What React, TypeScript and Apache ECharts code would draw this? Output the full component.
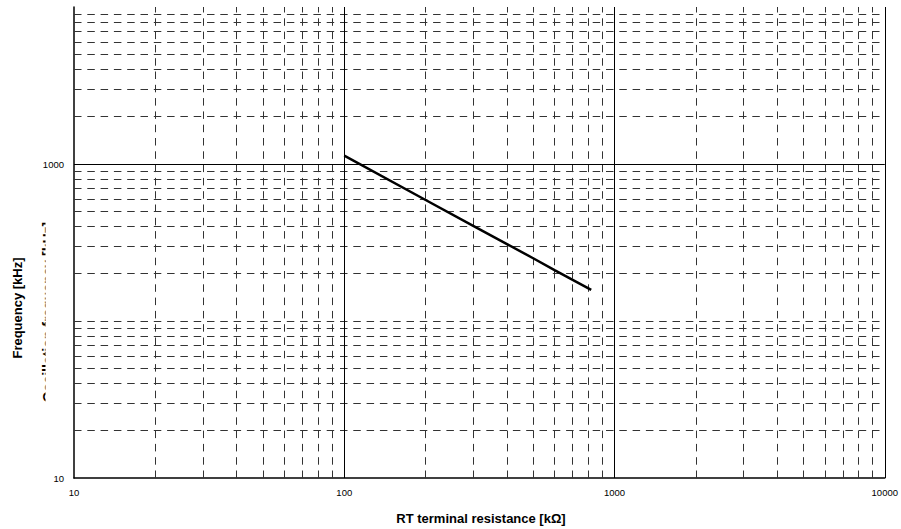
import React, { useEffect, useRef } from "react";
import * as echarts from "echarts";

// RT terminal resistance [kΩ] vs frequency [kHz]
const resistance = [100, 200, 300, 400, 500, 600, 700, 820];
const frequency = [1130, 590, 404, 309, 251, 211, 183, 158];

const xLabelTicks = [10, 100, 1000, 10000];
const yLabelTicks = [10, 1000];

const xMajorGrid = [100, 1000, 10000];
const yMajorGrid = [1000];
const xMinorGrid = [20, 30, 40, 50, 60, 70, 80, 90, 200, 300, 400, 500, 600, 700, 800, 900, 2000, 3000, 4000, 5000, 6000, 7000, 8000, 9000];
const yMinorGrid = [20, 30, 40, 50, 60, 70, 80, 90, 100, 200, 300, 400, 500, 600, 700, 800, 900, 2000, 3000, 4000, 5000, 6000, 7000, 8000, 9000];

const FONT = "'Liberation Sans', Arial, sans-serif";

export default function App() {
  const ref = useRef<HTMLDivElement>(null);
  useEffect(() => {
    if (!ref.current) return;
    const chart = echarts.init(ref.current, undefined, { renderer: "svg" });
    const dashed = { type: [7.5, 5.8] as any, color: "#333", width: 1 };
    const solid = { type: "solid" as any, color: "#000", width: 1 };
    const near = (v: number, list: number[]) => list.some((t) => Math.abs(v - t) / t < 1e-6);
    chart.setOption({
      animation: false,
      backgroundColor: "#fff",
      grid: { left: 74, right: 13, top: 7, bottom: 51, containLabel: false },
      xAxis: {
        type: "log",
        logBase: 10,
        min: 10,
        max: 10000,
        axisLine: { show: true, lineStyle: { color: "#000", width: 1.5 } },
        axisTick: { show: false },
        splitLine: { show: false },
        axisLabel: {
          show: true,
          margin: 9,
          fontSize: 9.5,
          color: "#000",
          fontFamily: FONT,
          showMaxLabel: true,
          showMinLabel: true,
          formatter: (v: number) => (near(v, xLabelTicks) ? String(Math.round(v)) : ""),
        },
      },
      yAxis: {
        type: "log",
        logBase: 10,
        min: 10,
        max: 10000,
        axisLine: { show: true, lineStyle: { color: "#000", width: 1.5 } },
        axisTick: { show: false },
        splitLine: { show: false },
        axisLabel: {
          show: true,
          margin: 10,
          fontSize: 9.5,
          color: "#000",
          fontFamily: FONT,
          formatter: (v: number) => (near(v, yLabelTicks) ? String(Math.round(v)) : ""),
        },
      },
      series: [
        {
          type: "line",
          name: "grid",
          data: [],
          z: 1,
          silent: true,
          markLine: {
            silent: true,
            symbol: "none",
            animation: false,
            label: { show: false },
            emphasis: { disabled: true },
            data: [
              ...xMinorGrid.map((v) => ({ xAxis: v, lineStyle: dashed })),
              ...yMinorGrid.map((v) => ({ yAxis: v, lineStyle: dashed })),
              ...xMajorGrid.map((v) => ({ xAxis: v, lineStyle: solid })),
              ...yMajorGrid.map((v) => ({ yAxis: v, lineStyle: solid })),
            ],
          },
        },
        {
          type: "line",
          name: "Frequency",
          z: 5,
          data: resistance.map((r, i) => [r, frequency[i]]),
          showSymbol: false,
          symbol: "none",
          lineStyle: { color: "#000", width: 2.5 },
        },
      ],
      graphic: [
        {
          type: "text",
          x: 47.5,
          y: 312,
          rotation: Math.PI / 2,
          z: 1,
          style: {
            text: "Oscillation frequency [kHz]",
            font: `bold 14px ${FONT}`,
            fill: "#000",
            align: "center",
            verticalAlign: "middle",
          },
        },
        {
          type: "rect",
          z: 2,
          shape: { x: 45.5, y: 200, width: 27, height: 220 },
          style: { fill: "#fff" },
        },
        {
          type: "text",
          x: 17,
          y: 308,
          rotation: Math.PI / 2,
          z: 3,
          style: {
            text: "Frequency [kHz]",
            font: `bold 13px ${FONT}`,
            fill: "#000",
            align: "center",
            verticalAlign: "middle",
          },
        },
        {
          type: "text",
          x: 481,
          y: 518,
          z: 3,
          style: {
            text: "RT terminal resistance [kΩ]",
            font: `bold 13px ${FONT}`,
            fill: "#000",
            align: "center",
            verticalAlign: "middle",
          },
        },
      ],
    });
    return () => chart.dispose();
  }, []);
  return (
    <div
      ref={ref}
      style={{ position: "fixed", left: 0, top: 0, width: 901, height: 529, background: "#fff" }}
    />
  );
}
